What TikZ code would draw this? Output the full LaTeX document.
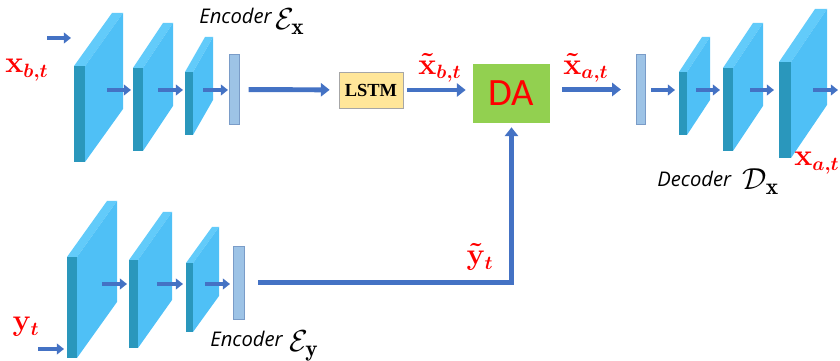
\documentclass[tikz,border=0pt]{standalone}
\usepackage{amsmath,amssymb}
\usepackage{fontspec}
\usepackage{tikz}
\usetikzlibrary{arrows.meta,positioning}
\newfontfamily\tagfont{Open Sans}
\newfontfamily\dafont{Carlito}
\newfontfamily\lstmfont{Liberation Serif}
\definecolor{slabside}{HTML}{4FC0F6}
\definecolor{slabtop}{HTML}{62CBFA}
\definecolor{slabfront}{HTML}{2A97BC}
\definecolor{arrblue}{HTML}{4472C4}
\definecolor{barblue}{HTML}{9DC3E6}
\definecolor{barline}{HTML}{7A9CC8}
\definecolor{lstmbg}{HTML}{FFE699}
\definecolor{dagreen}{HTML}{92D050}
% slab: x, top, bottom, edge width, depth x, depth rise
\newcommand\slab[6]{%
  \fill[slabtop] (#1,#2) -- ++(#5,-#6) -- ++(#4,0) -- (#1+#4,#2) -- cycle;
  \fill[slabside] (#1+#4,#2) -- ++(#5,-#6) -- ++(0,#3-#2) -- (#1+#4,#3) -- cycle;
  \fill[slabfront] (#1,#2) rectangle (#1+#4,#3);
}

\begin{document}
\begin{tikzpicture}[x=0.02cm, y=-0.02cm,
      bar/.style={draw=barline, fill=barblue, inner sep=0pt,
                  minimum width=0.19cm, minimum height=1.4cm},
      lstm/.style={draw=gray!70, fill=lstmbg, inner sep=0pt,
                   minimum width=1.28cm, minimum height=0.72cm,
                   font=\lstmfont\bfseries\fontsize{10.5}{12}\selectfont},
      da/.style={fill=dagreen, inner sep=0pt,
                 minimum width=1.54cm, minimum height=1.18cm,
                 text=red, font=\dafont\fontsize{22}{24}\selectfont},
      var/.style={text=red, inner sep=0pt, font=\fontsize{16}{18}\selectfont},
      tag/.style={inner sep=0pt, anchor=base west,
                  font=\tagfont\itshape\fontsize{11.5}{13}\selectfont},
      sym/.style={inner sep=0pt, anchor=base west, font=\fontsize{19}{21}\selectfont},
      arr/.style={-{Triangle[length=5pt,width=7.5pt]}, line width=2.8pt, color=arrblue},
      sarr/.style={-{Triangle[length=4pt,width=6pt]}, line width=2.2pt, color=arrblue}
  ]
    \useasboundingbox (0,0) rectangle (840,361);
    % encoder x
    \slab{74}{66}{162}{11}{38}{53}
    \slab{133}{68}{151}{10}{30}{45}
    \slab{185}{72}{135}{8}{20}{35}
    % encoder y
    \slab{67}{257}{358}{10}{40}{56}
    \slab{129}{260}{348}{9}{34}{48}
    \slab{186}{263}{332}{7}{26}{36}
    % decoder x
    \slab{679}{72}{135}{8}{23}{35}
    \slab{723}{68}{151}{10}{30}{45}
    \slab{779}{62}{158}{12}{36}{53}

    \node[bar] (encx) at (234.5,89.5) {};
    \node[bar, minimum width=0.22cm, minimum height=1.46cm] (ency) at (238.5,282.5) {};
    \node[bar] (decx) at (641,89.5) {};
    \node[lstm] (lstm) at (371,90) {LSTM};
    \node[da] (da) at (511.5,93.5) {DA};

    \foreach \a/\y/\b in {47/38/71, 107/90/131, 158/90/183, 203/90/228,
                          38/349/64, 102/284/127, 157/284/183, 205/284/230,
                          651/90/675, 696/90/720, 750/90/774, 813/90/838}
      \draw[sarr] (\a,\y) -- (\b,\y);

    \draw[arr, shorten <=0.18cm, shorten >=0.18cm] (encx) -- (lstm);
    \draw[arr, shorten <=0.08cm, shorten >=0.14cm] (lstm) -- (lstm -| da.west);
    \draw[arr, shorten <=0.24cm, shorten >=0.3cm] (da.east |- decx) -- (decx);
    \draw[arr, shorten <=0.28cm, shorten >=0.08cm] (ency) -| (da.south);

    \node[var] (xbt) at (27,70) {$\boldsymbol{\mathbf{x}_{b,t}}$};
    \node[var] (xtbt) at (440,68) {$\boldsymbol{\tilde{\mathbf{x}}_{b,t}}$};
    \node[var] (xtat) at (586,68) {$\boldsymbol{\tilde{\mathbf{x}}_{a,t}}$};
    \node[var] (ytt) at (480,257) {$\boldsymbol{\tilde{\mathbf{y}}_{t}}$};
    \node[var] (yt) at (26,327) {$\boldsymbol{\mathbf{y}_{t}}$};
    \node[var] (xat) at (817,163) {$\boldsymbol{\mathbf{x}_{a,t}}$};

    \node[tag] (tencx) at (199,24) {Encoder};
    \node[sym] (ex) at (275,30) {$\mathcal{E}_{\mathbf{x}}$};
    \node[tag] (tency) at (210,347) {Encoder};
    \node[sym] (ey) at (289,352) {$\mathcal{E}_{\mathbf{y}}$};
    \node[tag] (tdecx) at (657,187) {Decoder};
    \node[sym] (dx) at (742,190) {$\mathcal{D}_{\mathbf{x}}$};
  \end{tikzpicture}
\end{document}
